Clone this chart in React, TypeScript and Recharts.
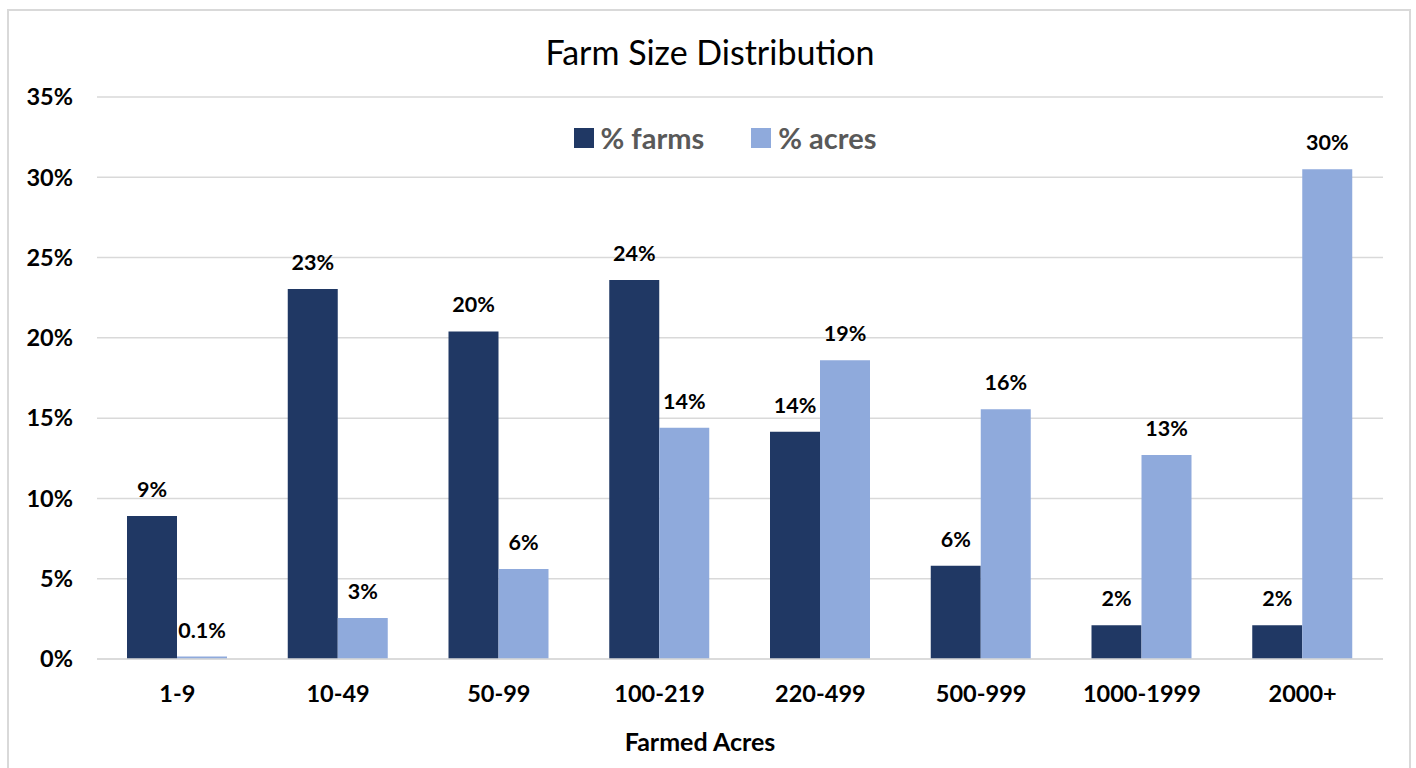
import { BarChart, Bar, XAxis, YAxis, CartesianGrid, LabelList } from 'recharts';

const categories = ['1-9', '10-49', '50-99', '100-219', '220-499', '500-999', '1000-1999', '2000+'];
const farms = [8.9, 23.05, 20.4, 23.6, 14.15, 5.8, 2.1, 2.1];
const acres = [0.15, 2.55, 5.6, 14.4, 18.6, 15.55, 12.7, 30.5];
const farmsLabels = ['9%', '23%', '20%', '24%', '14%', '6%', '2%', '2%'];
const acresLabels = ['0.1%', '3%', '6%', '14%', '19%', '16%', '13%', '30%'];
const yTicks = [0, 5, 10, 15, 20, 25, 30, 35];

const DARK = '#203864'
const LIGHT = '#8faadc'
const FONT = 'Lato, "Open Sans", sans-serif'

const data = categories.map((name, i) => ({
    name,
    farms: farms[i],
    acres: acres[i],
    farmsLabel: farmsLabels[i],
    acresLabel: acresLabels[i],
}));

export default function App() {
    return (
        <div style={{ position: 'absolute', left: 0, top: 0, width: 1416, height: 768, background: '#fff', fontFamily: FONT, overflow: 'hidden' }}>
            <div style={{ position: 'absolute', left: 7, top: 9, width: 1404, height: 800, border: '2px solid #d9d9d9', boxSizing: 'border-box' }} />

            <div style={{ position: 'absolute', top: 31, left: 0, width: 1420, textAlign: 'center', fontSize: 34, color: '#000' }}>
                Farm Size Distribution
            </div>

            <div style={{ position: 'absolute', top: 120, left: 0, width: 1450, display: 'flex', justifyContent: 'center', gap: 47, fontSize: 29, fontWeight: 700, color: '#595959' }}>
                <div style={{ display: 'flex', alignItems: 'center', gap: 7 }}>
                    <div style={{ width: 20, height: 20, background: DARK }}></div> % farms
                </div>
                <div style={{ display: 'flex', alignItems: 'center', gap: 7 }}>
                    <div style={{ width: 20, height: 20, background: LIGHT }}></div> % acres
                </div>
            </div>

            <div style={{ position: 'absolute', left: 0, top: 0 }}>
                <BarChart
                    width={1416}
                    height={768}
                    data={data}
                    margin={{ top: 97, right: 33, left: 7, bottom: 0 }}
                    barSize={50}
                    barGap={0}
                >
                    <CartesianGrid vertical={false} stroke='#d9d9d9' strokeWidth={1.5} />
                    <YAxis
                        width={90}
                        domain={[0, 35]}
                        ticks={yTicks}
                        tickFormatter={(v) => `${v}%`}
                        axisLine={false}
                        tickLine={false}
                        tickSize={0}
                        tickMargin={24}
                        tick={{ fill: '#000', fontSize: 23.5, fontWeight: 700, fontFamily: FONT }}
                    />
                    <XAxis
                        dataKey='name'
                        height={109}
                        stroke='#d9d9d9'
                        strokeWidth={1.5}
                        tickLine={false}
                        tickSize={0}
                        tickMargin={26}
                        tick={{ fill: '#000', fontSize: 23.5, fontWeight: 700, fontFamily: FONT }}
                        label={{ value: 'Farmed Acres', position: 'insideBottom', offset: 17, dx: -40, fill: '#000', fontSize: 25, fontWeight: 700, fontFamily: FONT }}
                    />
                    <Bar dataKey='farms' fill={DARK} isAnimationActive={false}>
                        <LabelList dataKey='farmsLabel' position='top' offset={19} fill='#000' fontSize={21.5} fontWeight={700} fontFamily={FONT} />
                    </Bar>
                    <Bar dataKey='acres' fill={LIGHT} isAnimationActive={false}>
                        <LabelList dataKey='acresLabel' position='top' offset={19} fill='#000' fontSize={21.5} fontWeight={700} fontFamily={FONT} />
                    </Bar>
                </BarChart>
            </div>
        </div>
    )
}
